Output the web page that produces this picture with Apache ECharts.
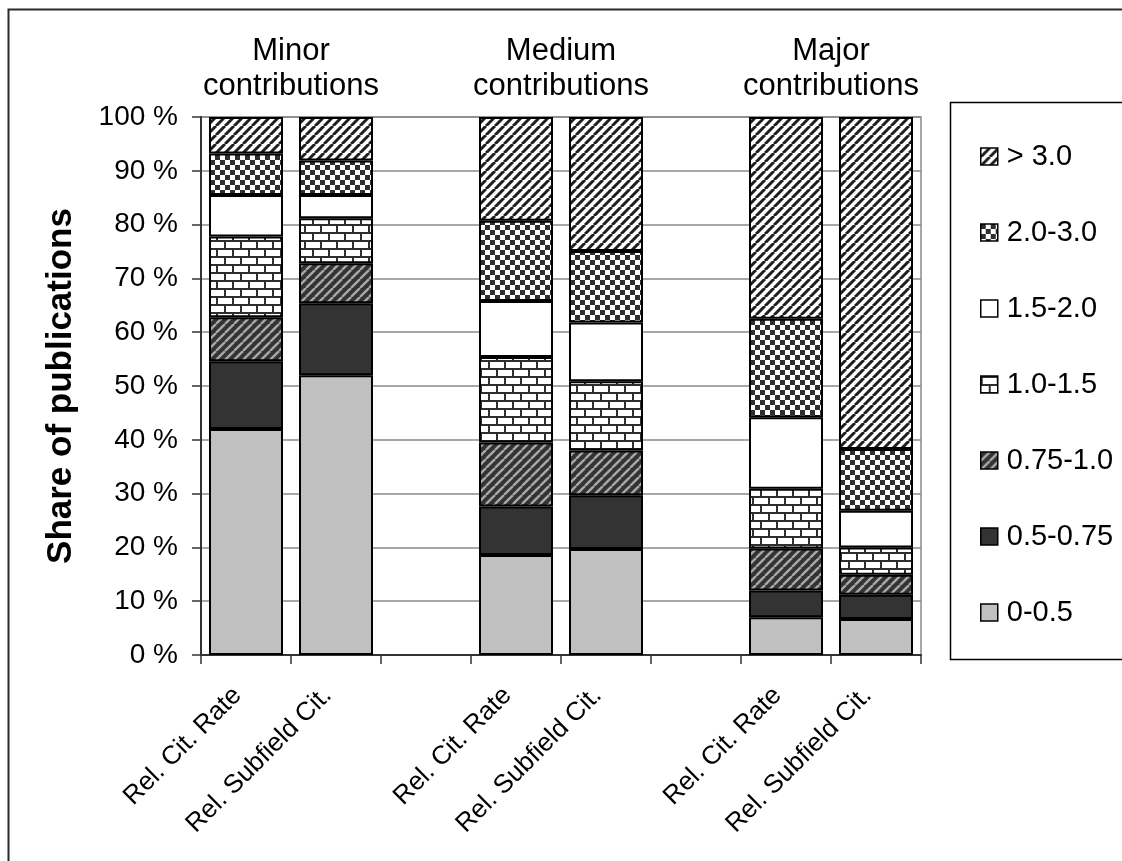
<!DOCTYPE html>
<html>
<head>
<meta charset="utf-8">
<title>Share of publications by citation class</title>
<script src="https://cdn.jsdelivr.net/npm/echarts@6/dist/echarts.min.js"></script>
<style>
  html, body { margin: 0; padding: 0; background: #ffffff; }
  #chart { width: 1122px; height: 861px; }
</style>
</head>
<body>
<div id="chart"></div>
<script>
// Categories along the x axis (blank slots separate the three groups)
const categories = ['Rel. Cit. Rate', 'Rel. Subfield Cit.', '', 'Rel. Cit. Rate', 'Rel. Subfield Cit.', '', 'Rel. Cit. Rate', 'Rel. Subfield Cit.'];
const groupTitles = ['Minor\ncontributions', 'Medium\ncontributions', 'Major\ncontributions'];
const groupFirstIndex = [0, 3, 6];

// Citation classes, bottom of the stack first
const classNames = ['0-0.5', '0.5-0.75', '0.75-1.0', '1.0-1.5', '1.5-2.0', '2.0-3.0', '> 3.0'];

// Share of publications (%) per class, one value per category slot
const share_0_05    = [42.0, 52.0, null, 18.6, 19.7, null,  7.0,  6.7];
const share_05_075  = [12.6, 13.4, null,  9.0, 10.0, null,  5.0,  4.5];
const share_075_10  = [ 8.2,  7.4, null, 11.9,  8.3, null,  7.8,  3.7];
const share_10_15   = [15.0,  8.4, null, 15.9, 12.9, null, 11.1,  5.1];
const share_15_20   = [ 7.7,  4.3, null, 10.4, 10.9, null, 13.3,  6.8];
const share_20_30   = [ 7.7,  6.4, null, 14.9, 13.3, null, 18.3, 11.5];
const share_over_30 = [ 6.8,  8.1, null, 19.3, 24.9, null, 37.5, 61.7];

const seriesValues = [share_0_05, share_05_075, share_075_10, share_10_15, share_15_20, share_20_30, share_over_30];

// Y axis ticks: 0 % .. 100 % in steps of 10
const yMin = 0, yMax = 100, yStep = 10;

const FONT = '"Liberation Sans", Arial, Helvetica, sans-serif';

// ---- fill patterns -------------------------------------------------------
function tile(w, h, paint) {
  const c = document.createElement('canvas');
  c.width = w; c.height = h;
  paint(c.getContext('2d'), w, h);
  return { image: c, repeat: 'repeat' };
}
function diagonal(size, bg, fg, width) {
  return tile(size, size, (ctx, w, h) => {
    ctx.fillStyle = bg; ctx.fillRect(0, 0, w, h);
    ctx.strokeStyle = fg; ctx.lineWidth = width;
    for (let k = -1; k <= 1; k++) {
      ctx.beginPath();
      ctx.moveTo(k * w, h);
      ctx.lineTo(k * w + w, 0);
      ctx.stroke();
    }
  });
}
const brick = tile(16, 16, (ctx, w, h) => {
  ctx.fillStyle = '#ffffff'; ctx.fillRect(0, 0, w, h);
  ctx.fillStyle = '#2e2e2e';
  ctx.fillRect(0, 0, w, 2);
  ctx.fillRect(0, 8, w, 2);
  ctx.fillRect(0, 0, 2, 8);
  ctx.fillRect(8, 8, 2, 8);
});
const checker = tile(10, 10, (ctx, w, h) => {
  ctx.fillStyle = '#ffffff'; ctx.fillRect(0, 0, w, h);
  ctx.fillStyle = '#2e2e2e';
  ctx.fillRect(0, 0, 5, 5);
  ctx.fillRect(5, 5, 5, 5);
});

const fills = [
  '#c0c0c0',                                  // 0-0.5
  '#333333',                                  // 0.5-0.75
  diagonal(9, '#333333', '#a8a8a8', 2.4),     // 0.75-1.0
  brick,                                      // 1.0-1.5
  '#ffffff',                                  // 1.5-2.0
  checker,                                    // 2.0-3.0
  diagonal(9, '#ffffff', '#1e1e1e', 3.0)      // > 3.0
];

// ---- chart ---------------------------------------------------------------
const chart = echarts.init(document.getElementById('chart'), null, { renderer: 'canvas' });

const series = classNames.map((name, i) => ({
  name: name,
  type: 'bar',
  stack: 'share',
  barWidth: 74,
  data: seriesValues[i],
  itemStyle: { color: fills[i], borderColor: '#000000', borderWidth: 2 },
  emphasis: { disabled: true },
  z: 3
}));

chart.setOption({
  animation: false,
  backgroundColor: '#ffffff',
  textStyle: { fontFamily: FONT },
  grid: {
    left: 201, top: 117, width: 720, height: 538,
    show: true, borderColor: '#8a8a8a', borderWidth: 1.5
  },
  legend: {
    orient: 'vertical',
    left: 975, top: 137,
    itemWidth: 17, itemHeight: 17, itemGap: 47,
    icon: 'rect',
    selectedMode: false,
    data: classNames.slice().reverse(),
    itemStyle: { borderColor: '#000000', borderWidth: 1.5 },
    textStyle: { fontFamily: FONT, fontSize: 29, color: '#000000', padding: [0, 0, 0, 4] }
  },
  xAxis: {
    type: 'category',
    data: categories,
    axisLine: { lineStyle: { color: '#333333', width: 2 } },
    axisTick: { show: true, length: 9, interval: 0, lineStyle: { color: '#333333', width: 1.5 } },
    axisLabel: {
      interval: 0, rotate: 45, margin: 28, padding: [0, 12, 0, 0],
      fontFamily: FONT, fontSize: 26, color: '#000000'
    },
    splitLine: { show: false }
  },
  yAxis: {
    type: 'value',
    min: yMin, max: yMax, interval: yStep,
    name: 'Share of publications',
    nameLocation: 'middle', nameRotate: 90, nameGap: 122,
    nameTextStyle: { fontFamily: FONT, fontSize: 35, fontWeight: 'bold', color: '#000000' },
    axisLine: { show: true, lineStyle: { color: '#333333', width: 2 } },
    axisTick: { show: true, length: 9, lineStyle: { color: '#333333', width: 1.5 } },
    axisLabel: { margin: 23, fontFamily: FONT, fontSize: 28, color: '#000000', formatter: '{value} %' },
    splitLine: { show: true, lineStyle: { color: '#8a8a8a', width: 1.5 } }
  },
  series: series
});

// Group headings centred over each pair of bars, plus the frame and legend box
const headings = groupTitles.map((t, g) => {
  const i = groupFirstIndex[g];
  const x0 = chart.convertToPixel({ xAxisIndex: 0 }, i);
  const x1 = chart.convertToPixel({ xAxisIndex: 0 }, i + 1);
  return {
    type: 'text',
    x: (x0 + x1) / 2, y: 34,
    style: {
      text: t, fontFamily: FONT, fontSize: 31, lineHeight: 35,
      fill: '#000000', align: 'center', verticalAlign: 'top'
    }
  };
});

chart.setOption({
  graphic: [
    {
      type: 'rect', silent: true, z: -1,
      shape: { x: 8.5, y: 9.5, width: 1140, height: 880 },
      style: { fill: 'none', stroke: '#2a2a2a', lineWidth: 2 }
    },
    {
      type: 'rect', silent: true, z: -1,
      shape: { x: 950.5, y: 102.5, width: 200, height: 557 },
      style: { fill: 'none', stroke: '#000000', lineWidth: 1.5 }
    }
  ].concat(headings)
});
</script>
</body>
</html>
